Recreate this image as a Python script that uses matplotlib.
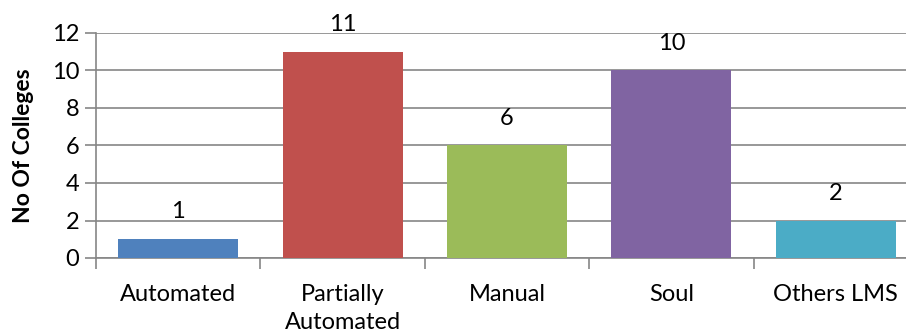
import matplotlib
matplotlib.use("Agg")
import matplotlib.pyplot as plt
import numpy as np

categories = ["Automated", "Partially\nAutomated", "Manual", "Soul", "Others LMS"]
counts = [1, 11, 6, 10, 2]
colors = ["#4F81BD", "#C0504D", "#9BBB59", "#8064A2", "#4BACC6"]
y_ticks = [0, 2, 4, 6, 8, 10, 12]

plt.rcParams["font.family"] = ["Lato", "DejaVu Sans"]
grid_color = "#868686"

fig = plt.figure(figsize=(9.06, 3.35), dpi=100)
ax = fig.add_axes([96 / 906, 1 - 258 / 335, (918 - 96) / 906, (258 - 33) / 335])

x = np.arange(len(categories))
ax.bar(x, counts, width=0.73, color=colors, zorder=3)
for xi, v in zip(x, counts):
    ax.text(xi, v + 0.9, str(v), ha="center", va="bottom", fontsize=17, color="black")

ax.set_xlim(-0.5, len(categories) - 0.5)
ax.set_ylim(0, 12)
ax.set_yticks(y_ticks)
ax.yaxis.grid(True, color=grid_color, linewidth=1.2, zorder=0)
ax.set_xticks(x)
ax.set_xticklabels(categories, fontsize=17, linespacing=1.4)
ax.set_xticks(np.arange(len(categories) + 1) - 0.5, minor=True)
ax.tick_params(axis="x", which="major", length=0, pad=19)
ax.tick_params(axis="x", which="minor", length=8, color=grid_color, width=1.2)
ax.tick_params(axis="y", length=8, color=grid_color, width=1.2, labelsize=17, pad=4)

for side in ["top", "right"]:
    ax.spines[side].set_visible(False)
for side in ["left", "bottom"]:
    ax.spines[side].set_color(grid_color)
    ax.spines[side].set_linewidth(1.2)

ax.set_ylabel("No Of Colleges", fontsize=16.5, fontweight="bold", labelpad=13)

fig.savefig("out.png", dpi=100)
